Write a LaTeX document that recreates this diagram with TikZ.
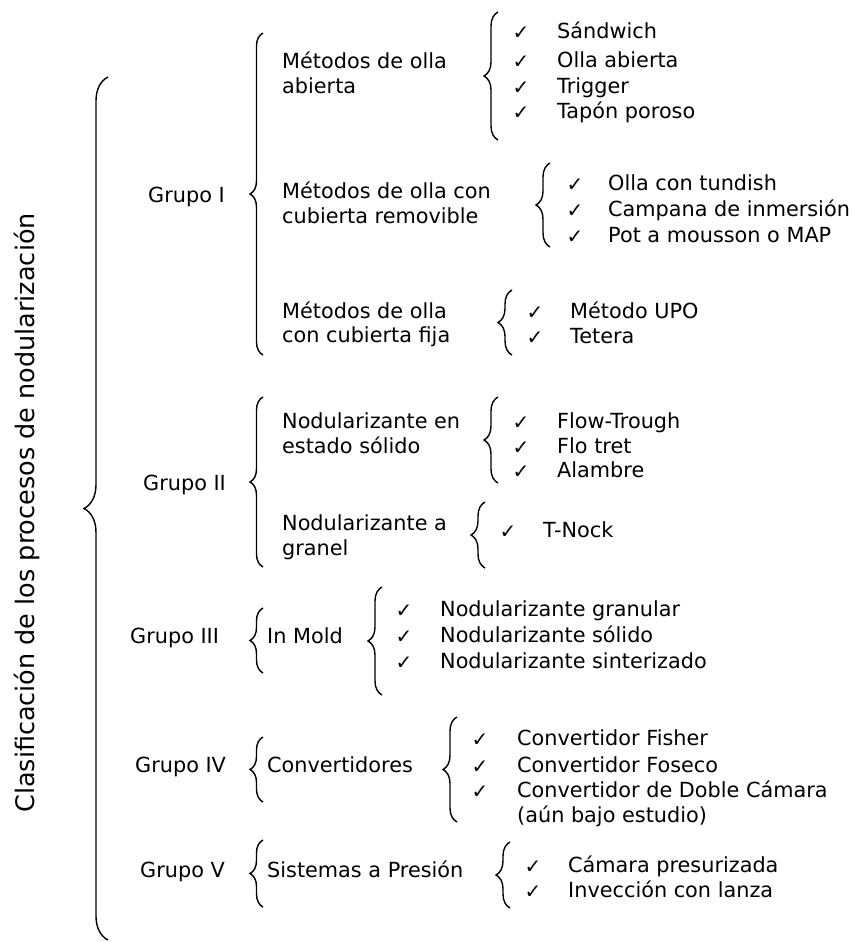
\documentclass[tikz,border=0pt]{standalone}
\usepackage{fontspec}
\setmainfont{DejaVu Sans}
\usetikzlibrary{decorations.pathreplacing}
\begin{document}
\begin{tikzpicture}[x=1pt,y=-1pt,
  txt/.style={anchor=west, inner sep=0pt, font=\fontsize{20.8}{25}\selectfont, text height=15.5pt, text depth=4.5pt},
  chk/.style={inner sep=0pt, font=\fontsize{20}{20}\selectfont},
  brc/.style={decorate, decoration={brace, amplitude=#1}, line width=1.4pt}]
\useasboundingbox (0,0) rectangle (858,942);

% title
\node[rotate=90, inner sep=0pt, font=\fontsize{25.5}{30}\selectfont] (title) at (27,513) {Clasificación de los procesos de nodularización};
\coordinate (bigt) at (108,77);
\coordinate (bigb) at (108,940);
\draw[brc=24] (bigb) -- (bigt);

% ---------- Grupo I ----------
\node[txt] (g1) at (148,197) {Grupo I};
\coordinate (g1t) at (263,33); \coordinate (g1b) at (263,355);
\draw[brc=13] (g1b) -- (g1t);

\node[txt] (m1a) at (282,63) {Métodos de olla};
\node[txt] (m1b) at (282,88) {abierta};
\coordinate (b1t) at (498,12); \coordinate (b1b) at (498,140);
\draw[brc=14] (b1b) -- (b1t);
\node[chk] (c11) at (521,33) {✓}; \node[txt] (t11) at (557,33) {Sándwich};
\node[chk] (c12) at (521,62) {✓}; \node[txt] (t12) at (557,62) {Olla abierta};
\node[chk] (c13) at (521,88) {✓}; \node[txt] (t13) at (557,88) {Trigger};
\node[chk] (c14) at (521,113) {✓}; \node[txt] (t14) at (557,113) {Tapón poroso};

\node[txt] (m2a) at (282,193) {Métodos de olla con};
\node[txt] (m2b) at (282,218) {cubierta removible};
\coordinate (b2t) at (550,163); \coordinate (b2b) at (550,247);
\draw[brc=14] (b2b) -- (b2t);
\node[chk] (c21) at (575,185) {✓}; \node[txt] (t21) at (608,185) {Olla con tundish};
\node[chk] (c22) at (575,211) {✓}; \node[txt] (t22) at (608,211) {Campana de inmersión};
\node[chk] (c23) at (575,237) {✓}; \node[txt] (t23) at (608,237) {Pot a mousson o MAP};

\node[txt] (m3a) at (282,313) {Métodos de olla};
\node[txt] (m3b) at (282,337) {con cubierta fija};
\coordinate (b3t) at (512,290); \coordinate (b3b) at (512,355);
\draw[brc=14] (b3b) -- (b3t);
\node[chk] (c31) at (535,313) {✓}; \node[txt] (t31) at (570,313) {Método UPO};
\node[chk] (c32) at (535,338) {✓}; \node[txt] (t32) at (570,338) {Tetera};

% ---------- Grupo II ----------
\node[txt] (g2) at (143,485) {Grupo II};
\coordinate (g2t) at (263,397); \coordinate (g2b) at (263,567);
\draw[brc=13] (g2b) -- (g2t);

\node[txt] (n1a) at (282,423) {Nodularizante en};
\node[txt] (n1b) at (282,448) {estado sólido};
\coordinate (b4t) at (498,397); \coordinate (b4b) at (498,483);
\draw[brc=14] (b4b) -- (b4t);
\node[chk] (c41) at (521,423) {✓}; \node[txt] (t41) at (557,423) {Flow-Trough};
\node[chk] (c42) at (521,448) {✓}; \node[txt] (t42) at (557,448) {Flo tret};
\node[chk] (c43) at (521,472) {✓}; \node[txt] (t43) at (557,472) {Alambre};

\node[txt] (n2a) at (282,525) {Nodularizante a};
\node[txt] (n2b) at (282,550) {granel};
\coordinate (b5t) at (485,502); \coordinate (b5b) at (485,568);
\draw[brc=14] (b5b) -- (b5t);
\node[chk] (c51) at (508,532) {✓}; \node[txt] (t51) at (543,532) {T-Nock};

% ---------- Grupo III ----------
\node[txt] (g3) at (130,638) {Grupo III};
\coordinate (g3t) at (263,608); \coordinate (g3b) at (263,673);
\draw[brc=13] (g3b) -- (g3t);
\node[txt] (im) at (267,638) {In Mold};
\coordinate (b6t) at (382,587); \coordinate (b6b) at (382,695);
\draw[brc=14] (b6b) -- (b6t);
\node[chk] (c61) at (404,611) {✓}; \node[txt] (t61) at (440,611) {Nodularizante granular};
\node[chk] (c62) at (404,637) {✓}; \node[txt] (t62) at (440,637) {Nodularizante sólido};
\node[chk] (c63) at (404,663) {✓}; \node[txt] (t63) at (440,663) {Nodularizante sinterizado};

% ---------- Grupo IV ----------
\node[txt] (g4) at (135,767) {Grupo IV};
\coordinate (g4t) at (263,737); \coordinate (g4b) at (263,802);
\draw[brc=13] (g4b) -- (g4t);
\node[txt] (cv) at (267,767) {Convertidores};
\coordinate (b7t) at (457,717); \coordinate (b7b) at (457,822);
\draw[brc=14] (b7b) -- (b7t);
\node[chk] (c71) at (480,740) {✓}; \node[txt] (t71) at (517,740) {Convertidor Fisher};
\node[chk] (c72) at (480,767) {✓}; \node[txt] (t72) at (517,767) {Convertidor Foseco};
\node[chk] (c73) at (480,792) {✓}; \node[txt] (t73) at (517,792) {Convertidor de Doble Cámara};
\node[txt] (t74) at (517,817) {(aún bajo estudio)};

% ---------- Grupo V ----------
\node[txt] (g5) at (140,872) {Grupo V};
\coordinate (g5t) at (263,840); \coordinate (g5b) at (263,907);
\draw[brc=13] (g5b) -- (g5t);
\node[txt] (sp) at (267,872) {Sistemas a Presión};
\coordinate (b8t) at (510,842); \coordinate (b8b) at (510,908);
\draw[brc=14] (b8b) -- (b8t);
\node[chk] (c81) at (533,867) {✓}; \node[txt] (t81) at (568,867) {Cámara presurizada};
\node[chk] (c82) at (533,892) {✓}; \node[txt] (t82) at (568,892) {Invección con lanza};
\end{tikzpicture}
\end{document}
